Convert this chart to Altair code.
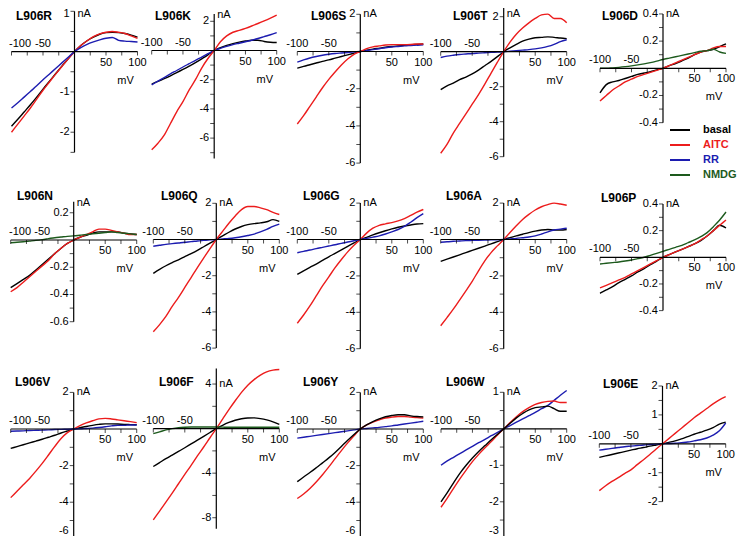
import altair as alt
import pandas as pd

MV = [-100, -90, -80, -70, -60, -50, -40, -30, -20, -10, 0,
      10, 20, 30, 40, 50, 60, 70, 80, 90, 100]

SERIES = ["basal", "AITC", "RR", "NMDG"]
COLORS = ["#000000", "#ec1c1c", "#1c1cb0", "#1d5a1d"]

# ---- row 1 ----
R_basal = [-1.85, -1.68, -1.5, -1.32, -1.13, -0.93, -0.74, -0.55, -0.36, -0.18, 0, 0.15, 0.27, 0.36, 0.43, 0.47, 0.48, 0.47, 0.45, 0.41, 0.36]
R_AITC = [-2.0, -1.8, -1.6, -1.4, -1.18, -0.96, -0.76, -0.56, -0.37, -0.18, 0, 0.15, 0.27, 0.37, 0.44, 0.48, 0.5, 0.48, 0.45, 0.39, 0.33]
R_RR = [-1.4, -1.27, -1.13, -0.99, -0.85, -0.7, -0.56, -0.42, -0.28, -0.14, 0, 0.1, 0.18, 0.24, 0.29, 0.33, 0.35, 0.28, 0.26, 0.25, 0.24]

K_basal = [-2.3, -2.12, -1.93, -1.73, -1.52, -1.3, -1.07, -0.83, -0.57, -0.3, 0, 0.2, 0.35, 0.47, 0.57, 0.65, 0.7, 0.7, 0.62, 0.57, 0.55]
K_AITC = [-6.8, -6.35, -5.8, -5.0, -4.2, -3.5, -2.7, -2.0, -1.2, -0.55, 0, 0.6, 1.0, 1.25, 1.38, 1.52, 1.68, 1.85, 2.03, 2.22, 2.42]
K_RR = [-2.35, -2.1, -1.85, -1.6, -1.37, -1.13, -0.9, -0.67, -0.45, -0.22, 0, 0.15, 0.28, 0.4, 0.5, 0.6, 0.7, 0.82, 0.95, 1.08, 1.22]

S_basal = [-0.9, -0.8, -0.71, -0.62, -0.53, -0.45, -0.36, -0.27, -0.18, -0.09, 0, 0.07, 0.13, 0.18, 0.23, 0.27, 0.3, 0.33, 0.36, 0.38, 0.4]
S_AITC = [-3.9, -3.45, -2.95, -2.45, -1.95, -1.5, -1.1, -0.72, -0.4, -0.15, 0, 0.15, 0.25, 0.3, 0.35, 0.37, 0.37, 0.37, 0.38, 0.4, 0.4]
S_RR = [-0.57, -0.45, -0.35, -0.27, -0.2, -0.15, -0.11, -0.08, -0.05, -0.02, 0, 0.05, 0.1, 0.15, 0.2, 0.24, 0.27, 0.3, 0.32, 0.34, 0.36]

T_basal = [-2.17, -1.95, -1.8, -1.6, -1.45, -1.27, -1.05, -0.8, -0.55, -0.28, 0, 0.22, 0.42, 0.6, 0.72, 0.8, 0.82, 0.85, 0.82, 0.78, 0.75]
T_AITC = [-5.8, -5.3, -4.65, -4.1, -3.55, -3.0, -2.45, -1.85, -1.22, -0.6, 0, 0.55, 1.0, 1.35, 1.65, 1.9, 2.1, 2.15, 1.9, 1.9, 1.65]
T_RR = [-0.33, -0.25, -0.2, -0.16, -0.13, -0.1, -0.08, -0.06, -0.04, -0.02, 0, 0.03, 0.06, 0.09, 0.12, 0.16, 0.22, 0.3, 0.42, 0.58, 0.68]

D_basal = [-0.18, -0.12, -0.1, -0.09, -0.075, -0.06, -0.045, -0.035, -0.025, -0.012, 0, 0.02, 0.035, 0.055, 0.075, 0.1, 0.12, 0.13, 0.14, 0.16, 0.18]
D_AITC = [-0.24, -0.2, -0.16, -0.13, -0.1, -0.08, -0.06, -0.045, -0.03, -0.015, 0, 0.02, 0.04, 0.06, 0.08, 0.1, 0.12, 0.13, 0.15, 0.16, 0.16]
D_NMDG = [0.0, 0.0, 0.003, 0.007, 0.012, 0.018, 0.025, 0.033, 0.042, 0.053, 0.065, 0.075, 0.085, 0.095, 0.105, 0.115, 0.125, 0.13, 0.14, 0.12, 0.11]

# ---- row 2 ----
N_basal = [-0.35, -0.32, -0.29, -0.26, -0.22, -0.18, -0.14, -0.1, -0.06, -0.025, 0, 0.02, 0.035, 0.05, 0.06, 0.06, 0.06, 0.06, 0.05, 0.045, 0.04]
N_AITC = [-0.38, -0.35, -0.31, -0.27, -0.23, -0.19, -0.15, -0.1, -0.06, -0.025, 0, 0.02, 0.04, 0.06, 0.08, 0.08, 0.07, 0.06, 0.05, 0.04, 0.04]
N_NMDG = [-0.02, -0.017, -0.013, -0.008, -0.003, 0.003, 0.01, 0.017, 0.022, 0.027, 0.03, 0.035, 0.04, 0.045, 0.05, 0.055, 0.06, 0.055, 0.05, 0.045, 0.04]

Q_basal = [-1.87, -1.65, -1.45, -1.28, -1.12, -0.95, -0.78, -0.6, -0.4, -0.2, 0, 0.2, 0.4, 0.58, 0.72, 0.82, 0.88, 0.92, 0.98, 1.1, 1.0]
Q_AITC = [-5.1, -4.7, -4.25, -3.7, -3.2, -2.65, -2.1, -1.55, -1.02, -0.5, 0, 0.45, 0.9, 1.3, 1.65, 1.82, 1.82, 1.75, 1.65, 1.5, 1.38]
Q_RR = [-0.37, -0.32, -0.27, -0.23, -0.19, -0.15, -0.12, -0.08, -0.05, -0.02, 0, 0.03, 0.06, 0.1, 0.15, 0.22, 0.3, 0.42, 0.56, 0.72, 0.85]

G_basal = [-1.92, -1.72, -1.53, -1.35, -1.15, -0.95, -0.76, -0.57, -0.38, -0.19, 0, 0.12, 0.25, 0.37, 0.48, 0.58, 0.67, 0.74, 0.8, 0.85, 0.87]
G_AITC = [-4.6, -4.15, -3.65, -3.1, -2.55, -2.05, -1.55, -1.1, -0.68, -0.32, 0, 0.35, 0.62, 0.78, 0.86, 0.93, 1.02, 1.15, 1.32, 1.5, 1.65]
G_RR = [-0.73, -0.65, -0.58, -0.5, -0.43, -0.36, -0.29, -0.21, -0.14, -0.07, 0, 0.06, 0.13, 0.2, 0.3, 0.42, 0.55, 0.72, 0.95, 1.2, 1.42]

A_basal = [-1.2, -1.08, -0.96, -0.84, -0.72, -0.6, -0.48, -0.36, -0.24, -0.12, 0, 0.1, 0.2, 0.29, 0.38, 0.46, 0.52, 0.55, 0.52, 0.52, 0.55]
A_AITC = [-4.74, -4.29, -3.83, -3.33, -2.82, -2.3, -1.72, -1.17, -0.72, -0.35, 0, 0.38, 0.75, 1.1, 1.38, 1.62, 1.8, 1.92, 2.0, 1.95, 1.88]
A_RR = [-0.15, -0.12, -0.1, -0.08, -0.06, -0.05, -0.04, -0.03, -0.02, -0.01, 0, 0.03, 0.06, 0.1, 0.14, 0.2, 0.3, 0.42, 0.52, 0.57, 0.62]

P_basal = [-0.27, -0.245, -0.22, -0.19, -0.165, -0.14, -0.11, -0.085, -0.055, -0.028, 0, 0.02, 0.04, 0.06, 0.08, 0.1, 0.125, 0.16, 0.2, 0.24, 0.22]
P_AITC = [-0.23, -0.21, -0.19, -0.17, -0.15, -0.125, -0.1, -0.075, -0.05, -0.025, 0, 0.02, 0.04, 0.06, 0.08, 0.1, 0.13, 0.16, 0.2, 0.24, 0.28]
P_NMDG = [-0.05, -0.045, -0.04, -0.035, -0.028, -0.02, -0.01, 0.0, 0.015, 0.03, 0.045, 0.06, 0.075, 0.09, 0.11, 0.13, 0.155, 0.185, 0.23, 0.28, 0.34]

# ---- row 3 ----
V_basal = [-1.06, -0.96, -0.86, -0.76, -0.66, -0.56, -0.45, -0.34, -0.22, -0.11, 0, 0.07, 0.14, 0.2, 0.25, 0.28, 0.28, 0.27, 0.25, 0.24, 0.23]
V_AITC = [-3.75, -3.4, -3.05, -2.7, -2.3, -1.88, -1.42, -0.95, -0.52, -0.2, 0, 0.18, 0.33, 0.45, 0.55, 0.58, 0.55, 0.5, 0.45, 0.4, 0.35]
V_RR = [-0.12, -0.11, -0.1, -0.08, -0.07, -0.06, -0.05, -0.03, -0.02, -0.01, 0, 0.01, 0.03, 0.05, 0.08, 0.12, 0.17, 0.2, 0.2, 0.22, 0.22]

F_basal = [-3.4, -3.05, -2.7, -2.38, -2.05, -1.72, -1.38, -1.04, -0.7, -0.35, 0, 0.3, 0.55, 0.75, 0.88, 0.95, 0.96, 0.9, 0.78, 0.6, 0.38]
F_AITC = [-8.2, -7.4, -6.6, -5.8, -4.95, -4.1, -3.3, -2.45, -1.65, -0.82, 0, 0.85, 1.7, 2.5, 3.25, 3.9, 4.4, 4.8, 5.1, 5.25, 5.3]
F_NMDG = [-0.45, -0.3, -0.12, 0.0, 0.08, 0.12, 0.14, 0.15, 0.15, 0.15, 0.14, 0.13, 0.12, 0.12, 0.12, 0.12, 0.12, 0.12, 0.12, 0.12, 0.12]

Y_basal = [-2.88, -2.62, -2.38, -2.12, -1.85, -1.58, -1.28, -0.95, -0.62, -0.3, 0, 0.22, 0.4, 0.55, 0.67, 0.74, 0.78, 0.78, 0.72, 0.68, 0.66]
Y_AITC = [-3.8, -3.55, -3.25, -2.9, -2.5, -2.07, -1.62, -1.18, -0.76, -0.37, 0, 0.22, 0.38, 0.5, 0.6, 0.65, 0.68, 0.68, 0.65, 0.62, 0.6]
Y_RR = [-0.5, -0.45, -0.4, -0.35, -0.3, -0.25, -0.2, -0.15, -0.1, -0.05, 0, 0.03, 0.06, 0.09, 0.13, 0.17, 0.22, 0.27, 0.32, 0.37, 0.42]

W_basal = [-2.0, -1.75, -1.48, -1.22, -1.0, -0.8, -0.62, -0.46, -0.3, -0.15, 0, 0.15, 0.3, 0.42, 0.52, 0.58, 0.6, 0.62, 0.55, 0.48, 0.48]
W_AITC = [-2.15, -1.9, -1.63, -1.37, -1.13, -0.9, -0.7, -0.52, -0.35, -0.17, 0, 0.17, 0.33, 0.47, 0.58, 0.67, 0.72, 0.75, 0.76, 0.72, 0.72]
W_RR = [-1.0, -0.88, -0.78, -0.68, -0.58, -0.48, -0.38, -0.29, -0.19, -0.1, 0, 0.09, 0.18, 0.27, 0.36, 0.45, 0.55, 0.64, 0.78, 0.92, 1.05]

E_basal = [-0.47, -0.42, -0.37, -0.32, -0.27, -0.22, -0.17, -0.13, -0.08, -0.04, 0, 0.05, 0.1, 0.17, 0.25, 0.33, 0.4, 0.47, 0.56, 0.68, 0.75]
E_AITC = [-1.62, -1.45, -1.3, -1.17, -1.03, -0.9, -0.72, -0.55, -0.37, -0.18, 0, 0.18, 0.36, 0.54, 0.72, 0.9, 1.06, 1.22, 1.38, 1.52, 1.63]
E_RR = [-0.22, -0.19, -0.16, -0.13, -0.1, -0.08, -0.06, -0.04, -0.025, -0.01, 0, 0.01, 0.02, 0.04, 0.06, 0.1, 0.14, 0.2, 0.3, 0.45, 0.72]

# panel: name, curves, y extent, labelled ticks, minor step, nA label value
PANELS = [
    ("L906R", {"basal": R_basal, "AITC": R_AITC, "RR": R_RR}, (-2.5, 1), [1, -1, -2], 0.5, 1),
    ("L906K", {"basal": K_basal, "RR": K_RR, "AITC": K_AITC}, (-7.4, 2.5), [2, -2, -4, -6], 1, 2.4),
    ("L906S", {"basal": S_basal, "RR": S_RR, "AITC": S_AITC}, (-6, 2), [2, -2, -4, -6], 1, 2),
    ("L906T", {"basal": T_basal, "RR": T_RR, "AITC": T_AITC}, (-6, 2.5), [2, -2, -4, -6], 1, 2.3),
    ("L906D", {"basal": D_basal, "AITC": D_AITC, "NMDG": D_NMDG}, (-0.4, 0.4), [0.4, 0.2, -0.2, -0.4], 0.1, 0.4),
    ("L906N", {"basal": N_basal, "AITC": N_AITC, "NMDG": N_NMDG}, (-0.6, 0.28), [0.2, -0.2, -0.4, -0.6], 0.1, 0.27),
    ("L906Q", {"basal": Q_basal, "RR": Q_RR, "AITC": Q_AITC}, (-6, 2), [2, -2, -4, -6], 1, 2),
    ("L906G", {"basal": G_basal, "AITC": G_AITC, "RR": G_RR}, (-6, 2), [2, -2, -4, -6], 1, 2),
    ("L906A", {"basal": A_basal, "AITC": A_AITC, "RR": A_RR}, (-6, 2), [2, -2, -4, -6], 1, 2),
    ("L906P", {"basal": P_basal, "AITC": P_AITC, "NMDG": P_NMDG}, (-0.4, 0.4), [0.4, 0.2, -0.2, -0.4], 0.1, 0.4),
    ("L906V", {"basal": V_basal, "AITC": V_AITC, "RR": V_RR}, (-6, 2), [2, -2, -4, -6], 1, 2),
    ("L906F", {"basal": F_basal, "AITC": F_AITC, "NMDG": F_NMDG}, (-9, 5.4), [4, -4, -8], 2, 4),
    ("L906Y", {"RR": Y_RR, "AITC": Y_AITC, "basal": Y_basal}, (-6, 2), [2, -2, -4, -6], 1, 2),
    ("L906W", {"RR": W_RR, "AITC": W_AITC, "basal": W_basal}, (-3, 1), [1, -1, -2, -3], 0.5, 1),
    ("L906E", {"basal": E_basal, "RR": E_RR, "AITC": E_AITC}, (-2, 2), [2, 1, -1, -2], 0.5, 2),
]

# layout in page pixels: x of -100 mV, x of +100 mV, y of 0 nA, pixels per nA
LAYOUT = {
    "L906R": (11.5, 137.5, 51.6, 40.3),
    "L906K": (151.7, 276.7, 50.5, 14.6),
    "L906S": (297.3, 423.3, 51.5, 18.6),
    "L906T": (440.7, 566.7, 51.7, 17.5),
    "L906D": (600, 726, 68.3, 135.9),
    "L906N": (10.7, 136.7, 240, 136.2),
    "L906Q": (153.3, 279.3, 239.5, 18.1),
    "L906G": (297.3, 423.3, 239.5, 18.2),
    "L906A": (440.7, 566.7, 239.5, 18.2),
    "L906P": (600, 726, 257.3, 133.3),
    "L906V": (10.7, 136.7, 429, 18.3),
    "L906F": (153.3, 279.3, 428.6, 11.14),
    "L906Y": (297.3, 423.3, 429, 18.3),
    "L906W": (441, 566.7, 428.8, 36.5),
    "L906E": (599.3, 725.7, 443.8, 28.9),
}
# title anchor (left x, middle y) in page pixels
TITLE_POS = {
    "L906R": (16, 15.5), "L906K": (155, 15.5), "L906S": (311, 15.5), "L906T": (453, 15.5), "L906D": (602, 15.5),
    "L906N": (17, 195.5), "L906Q": (161, 196), "L906G": (303, 196), "L906A": (446, 196), "L906P": (601, 198),
    "L906V": (15, 382), "L906F": (159, 382), "L906Y": (303, 382), "L906W": (446, 382), "L906E": (603, 383.5),
}
M = 8            # page margin
W_PLOT, H_PLOT = 730, 528
FONT = "Liberation Sans"
COLOR_OF = dict(zip(SERIES, COLORS))


def fmt(v):
    return f"{v:g}"


def minor_ticks(lo, hi, step):
    out = []
    n = int(round(-lo / step))
    for i in range(-n, int(hi / step + 1e-9) + 1):
        v = round(i * step, 6)
        if v != 0 and lo - 1e-9 <= v <= hi + 1e-9:
            out.append(v)
    return out


def edge_dy(py):
    """shift a text a little so that it stays inside the drawing"""
    if py < 5.5:
        return 5.5 - py
    if py > H_PLOT - 5.5:
        return (H_PLOT - 5.5) - py
    return 0


def make_panel(name, curves, yext, labels, step, na_y):
    x0, x1, yz, k = LAYOUT[name]
    ylo, yhi = yext
    xs = alt.Scale(domain=[-100, 100], range=[x0 - M, x1 - M], nice=False, zero=False)
    ys = alt.Scale(domain=[ylo, yhi], range=[yz - M - ylo * k, yz - M - yhi * k], nice=False, zero=False)

    def X(f):
        return alt.X(f, type="quantitative", scale=xs, axis=None)

    def Y(f):
        return alt.Y(f, type="quantitative", scale=ys, axis=None)

    def py(v):
        return yz - M - v * k

    layers = []
    for s, vals in curves.items():
        df = pd.DataFrame({"mV": MV, "nA": vals})
        layers.append(
            alt.Chart(df).mark_line(strokeWidth=1.4, interpolate="monotone", color=COLOR_OF[s])
            .encode(x=X("mV"), y=Y("nA"))
        )
    # axis lines
    layers.append(alt.Chart(pd.DataFrame({"a": [-100], "b": [100], "v": [0]}))
                  .mark_rule(color="black", strokeWidth=1.2)
                  .encode(x=X("a"), x2="b", y=Y("v")))
    layers.append(alt.Chart(pd.DataFrame({"z": [0], "lo": [ylo], "hi": [yhi]}))
                  .mark_rule(color="black", strokeWidth=1.2)
                  .encode(x=X("z"), y=Y("lo"), y2="hi"))
    # x ticks
    layers.append(alt.Chart(pd.DataFrame({"t": [-100, -75, -50, -25, 25, 50, 75, 100], "v": 0}))
                  .mark_tick(orient="vertical", size=4, thickness=1, yOffset=2, color="black")
                  .encode(x=X("t"), y=Y("v")))
    # y ticks
    layers.append(alt.Chart(pd.DataFrame({"t": minor_ticks(ylo, yhi, step), "z": 0}))
                  .mark_tick(orient="horizontal", size=4, thickness=1, xOffset=-2, color="black")
                  .encode(x=X("z"), y=Y("t")))
    # x labels (the -100 label is nudged inward when it would leave the drawing)
    left_px = x0 - M
    dx100 = max(0.0, 12 - left_px)
    layers.append(alt.Chart(pd.DataFrame({"t": [-100], "v": 0, "s": ["-100"]}))
                  .mark_text(font=FONT, fontSize=11, dy=-8, dx=dx100, baseline="middle", align="center")
                  .encode(x=X("t"), y=Y("v"), text="s:N"))
    layers.append(alt.Chart(pd.DataFrame({"t": [-50], "v": 0, "s": ["-50"]}))
                  .mark_text(font=FONT, fontSize=11, dy=-8, baseline="middle", align="center")
                  .encode(x=X("t"), y=Y("v"), text="s:N"))
    layers.append(alt.Chart(pd.DataFrame({"t": [50, 100], "v": 0, "s": ["50", "100"]}))
                  .mark_text(font=FONT, fontSize=11, dy=11, baseline="middle", align="center")
                  .encode(x=X("t"), y=Y("v"), text="s:N"))
    # y labels
    for v in labels:
        layers.append(alt.Chart(pd.DataFrame({"t": [v], "z": [0], "s": [fmt(v)]}))
                      .mark_text(font=FONT, fontSize=11, dx=-5, dy=edge_dy(py(v)), baseline="middle", align="right")
                      .encode(x=X("z"), y=Y("t"), text="s:N"))
    # unit labels
    layers.append(alt.Chart(pd.DataFrame({"z": [0], "t": [na_y], "s": ["nA"]}))
                  .mark_text(font=FONT, fontSize=11, dx=3, dy=edge_dy(py(na_y)), baseline="middle", align="left")
                  .encode(x=X("z"), y=Y("t"), text="s:N"))
    layers.append(alt.Chart(pd.DataFrame({"z": [81], "t": [0], "s": ["mV"]}))
                  .mark_text(font=FONT, fontSize=11, dy=29, baseline="middle", align="center")
                  .encode(x=X("z"), y=Y("t"), text="s:N"))
    panel = alt.layer(*layers)
    tx, ty = TITLE_POS[name]
    title = (alt.Chart(pd.DataFrame({"s": [name]}))
             .mark_text(font=FONT, fontSize=12, fontWeight="bold", align="left", baseline="middle")
             .encode(x=alt.value(tx - M), y=alt.value(ty - M), text="s:N"))
    return [panel, title]


all_layers = []
for p in PANELS:
    all_layers += make_panel(*p)

# legend
leg_df = pd.DataFrame({"series": SERIES, "row": [0, 1, 2, 3]})
leg_y = alt.Y("row:Q", scale=alt.Scale(domain=[0, 3], range=[130 - M, 175 - M], nice=False, zero=False), axis=None)
leg_color = alt.Color("series:N", scale=alt.Scale(domain=SERIES, range=COLORS), legend=None)
legend = alt.layer(
    alt.Chart(leg_df).mark_rule(strokeWidth=2).encode(
        x=alt.value(670 - M), x2=alt.value(690 - M), y=leg_y, color=leg_color),
    alt.Chart(leg_df).mark_text(font=FONT, fontSize=11, fontWeight="bold", align="left", baseline="middle").encode(
        x=alt.value(703 - M), y=leg_y, text="series:N", color=leg_color),
)
all_layers.append(legend)

chart = (
    alt.layer(*all_layers)
    .resolve_scale(x="independent", y="independent")
    .properties(width=W_PLOT, height=H_PLOT, autosize="none", padding=0)
    .configure_view(stroke=None)
)

chart.save("out.html", embed_options={"renderer": "svg", "actions": False})
